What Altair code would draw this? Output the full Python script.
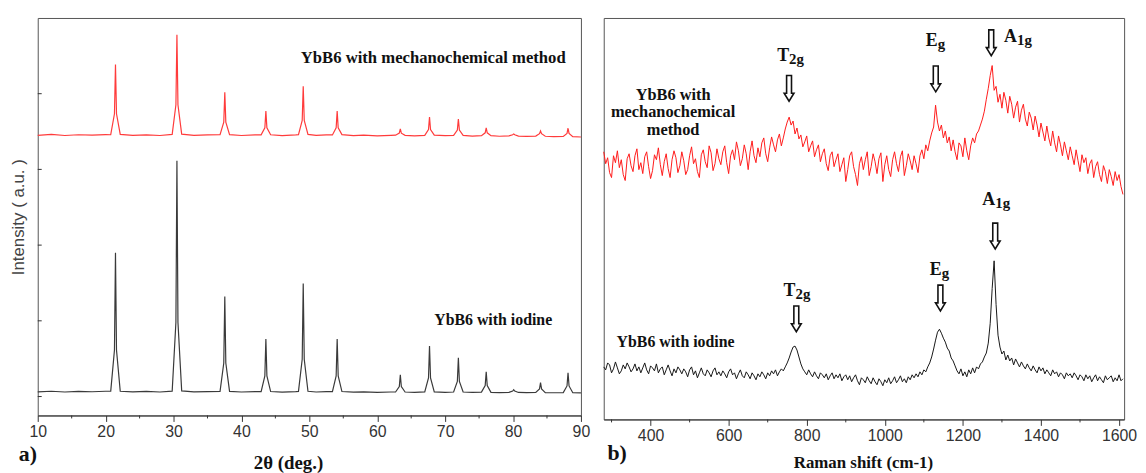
import altair as alt
import pandas as pd

# ---------------- panel a) XRD patterns ----------------
xrd_two_theta = [10, 12, 14, 16, 18, 20,
                 20.75, 21.3, 21.45, 21.6, 22.15,
                 24, 26, 28,
                 29.8, 30.35, 30.5, 30.65, 31.2,
                 33, 35,
                 36.85, 37.4, 37.55, 37.7, 38.25,
                 40, 42,
                 42.9, 43.45, 43.6, 43.75, 44.3,
                 46, 48,
                 48.4, 48.95, 49.1, 49.25, 49.8,
                 51, 52.5,
                 53.4, 53.95, 54.1, 54.25, 54.8,
                 56.5, 58, 60, 62,
                 62.7, 63.25, 63.4, 63.55, 64.1,
                 65.5,
                 67.0, 67.55, 67.7, 67.85, 68.4,
                 70,
                 71.25, 71.8, 71.95, 72.1, 72.65,
                 74,
                 75.35, 75.9, 76.05, 76.2, 76.75,
                 78,
                 79.4, 79.95, 80.1, 80.25, 80.8,
                 82,
                 83.35, 83.9, 84.05, 84.2, 84.75,
                 86,
                 87.4, 87.95, 88.1, 88.25, 88.8,
                 90]

xrd_mechano = [3450, 3462, 3448, 3458, 3452, 3460,
               3458, 3735, 4385, 3735, 3462,
               3450, 3457, 3448,
               3462, 3853, 4778, 3853, 3465,
               3450, 3455,
               3458, 3625, 4019, 3625, 3460,
               3448, 3455,
               3456, 3550, 3770, 3550, 3458,
               3447, 3455,
               3458, 3648, 4097, 3648, 3462,
               3450, 3456,
               3455, 3550, 3770, 3550, 3460,
               3446, 3452, 3444, 3450,
               3452, 3479, 3534, 3479, 3450,
               3442,
               3450, 3527, 3691, 3527, 3452,
               3445,
               3450, 3519, 3665, 3519, 3450,
               3440,
               3446, 3483, 3547, 3483, 3445,
               3438,
               3444, 3458, 3469, 3458, 3440,
               3436,
               3440, 3472, 3508, 3472, 3438,
               3434,
               3436, 3476, 3547, 3476, 3432,
               3428]

xrd_iodine = [62, 70, 60, 68, 63, 70,
              72, 615, 1898, 615, 70,
              62, 68, 60,
              72, 980, 3115, 980, 75,
              62, 66,
              68, 442, 1322, 442, 68,
              60, 66,
              66, 273, 759, 273, 66,
              58, 64,
              68, 493, 1492, 493, 70,
              60, 64,
              64, 273, 759, 273, 66,
              58, 62, 55, 60,
              60, 132, 288, 132, 60,
              56,
              62, 246, 668, 246, 62,
              56,
              60, 199, 511, 199, 60,
              54,
              58, 144, 327, 144, 56,
              52,
              55, 73, 90, 73, 54,
              52,
              54, 100, 183, 100, 52,
              50,
              52, 140, 314, 140, 50,
              48]

xrd_major_ticks = [10, 20, 30, 40, 50, 60, 70, 80, 90]
xrd_minor_ticks = [15, 25, 35, 45, 55, 65, 75, 85]
xrd_y_ticks = [0, 1000, 2000, 3000, 4000]

xrd_labels = ["YbB6 with mechanochemical method", "YbB6 with iodine"]
xrd_label_x = [68.25, 77.08]
xrd_label_y = [4476, 1007]

# ---------------- panel b) Raman spectra ----------------
raman_start, raman_step = 280, 5
raman_mechano = [
    270, 258, 264, 249, 244, 266, 259, 271, 254, 262, 247, 241, 263, 268, 256, 250, 266, 273, 252, 259,
    248, 265, 270, 255, 243, 251, 267, 262, 274, 257, 246, 260, 268, 253, 244, 262, 271, 264, 249, 256,
    270, 261, 247, 252, 266, 275, 258, 263, 250, 244, 267, 272, 260, 254, 276, 269, 251, 258, 273, 263,
    257, 270, 276, 259, 248, 266, 272, 262, 280, 271, 256, 263, 277, 268, 252, 270, 281, 266, 259, 274,
    265, 279, 284, 268, 260, 274, 285, 277, 270, 282, 288, 276, 284, 293, 300, 305, 297, 301, 288, 294,
    283, 287, 275, 280, 286, 270, 276, 281, 265, 272, 277, 260, 268, 273, 258, 251, 266, 270, 255, 262,
    268, 250, 257, 264, 240, 252, 266, 270, 255, 247, 236, 258, 265, 252, 262, 270, 246, 255, 268, 260,
    248, 263, 269, 240, 257, 266, 252, 245, 262, 270, 258, 250, 265, 271, 246, 256, 268, 261, 252, 266,
    258, 249, 266, 272, 263, 277, 271, 281, 289, 295, 317, 300, 291, 297, 284, 291, 279, 285, 271, 282,
    270, 262, 279, 276, 265, 284, 271, 262, 276, 284, 279, 288, 291, 297, 303, 311, 323, 334, 347, 357,
    332, 336, 320, 328, 314, 330, 322, 309, 326, 318, 304, 315, 321, 300, 312, 318, 303, 296, 310, 304,
    292, 306, 297, 285, 299, 290, 281, 296, 284, 276, 291, 279, 270, 286, 277, 266, 280, 271, 262, 275,
    266, 257, 272, 261, 250, 267, 259, 264, 248, 258, 262, 244, 255, 260, 247, 240, 256, 250, 238, 252,
    245, 236, 250, 241, 247, 235, 227]

raman_iodine = [
    53, 50, 57, 55, 47, 51, 58, 52, 46, 49, 55, 51, 57, 53, 48, 51, 56, 49, 53, 47,
    52, 57, 50, 46, 54, 52, 49, 56, 47, 51, 53, 45, 50, 55, 49, 44, 51, 47, 53, 50,
    46, 51, 48, 43, 50, 53, 45, 49, 42, 47, 52, 46, 44, 50, 47, 43, 49, 52, 45, 48,
    44, 49, 46, 42, 48, 51, 45, 47, 41, 46, 50, 44, 42, 48, 45, 41, 47, 44, 40, 46,
    43, 48, 45, 41, 47, 44, 49, 46, 50, 44, 48, 51, 49, 53, 57, 62, 68, 73, 74, 70,
    63, 56, 51, 48, 45, 50, 46, 43, 48, 44, 41, 47, 45, 42, 46, 40, 44, 47, 41, 45,
    42, 46, 39, 43, 45, 40, 44, 38, 42, 45, 39, 35, 42, 40, 37, 43, 39, 36, 42, 38,
    35, 41, 38, 34, 40, 37, 42, 36, 39, 43, 37, 40, 44, 38, 41, 37, 43, 40, 45, 42,
    46, 43, 48, 45, 50, 48, 53, 57, 63, 71, 80, 88, 91, 87, 82, 78, 72, 69, 62, 59,
    54, 49, 46, 51, 44, 48, 43, 50, 46, 52, 47, 53, 51, 56, 58, 63, 67, 77, 97, 132,
    160, 116, 85, 73, 66, 69, 60, 65, 59, 62, 55, 61, 57, 53, 58, 54, 51, 56, 52, 49,
    54, 50, 47, 53, 49, 52, 46, 50, 47, 44, 50, 46, 48, 43, 47, 45, 41, 47, 44, 46,
    42, 47, 44, 40, 45, 43, 39, 45, 41, 44, 38, 42, 45, 39, 43, 40, 37, 44, 40, 42,
    44, 38, 42, 39, 45, 39, 41]
raman_shift = [raman_start + raman_step * i for i in range(len(raman_mechano))]

raman_major_ticks = [400, 600, 800, 1000, 1200, 1400, 1600]
raman_minor_ticks = [300, 500, 700, 900, 1100, 1300, 1500]

raman_sample_labels = ["YbB6 with", "mechanochemical", "method", "YbB6 with iodine"]
raman_sample_x = [457.7, 457.7, 457.7, 464]
raman_sample_y = [327, 310, 292, 78]

mode_main = ["T", "E", "A", "T", "E", "A"]
mode_sub = ["2g", "g", "1g", "2g", "g", "1g"]
mode_x = [754.7, 1135.5, 1338.6, 771.2, 1145.7, 1282.8]
mode_y = [362, 377, 381, 125, 146, 216]
arrow_x = [754.7, 1130.5, 1272.6, 773.3, 1142.4, 1282.8]
arrow_y = [334, 343.5, 380, 101.5, 122.5, 185]

# ---------------- styling ----------------
serif = "Liberation Serif"
sans = "Liberation Sans"
W1, H1 = 548, 401
W2, H2 = 525, 405
ARROW = "M -0.19 -1 L 0.19 -1 L 0.19 0.38 L 0.38 0.38 L 0 1 L -0.38 0.38 L -0.19 0.38 Z"


def axis_x(values):
    return alt.Axis(values=values, title=None, grid=False, tickSize=6, tickColor="#333",
                    tickWidth=1, domainColor="#333", domainWidth=1, labelFont=sans,
                    labelFontSize=16, labelColor="#333", labelPadding=2, labelFlush=False,
                    labelOverlap=False, format="d")


xa_scale = alt.Scale(domain=[10, 90], nice=False, zero=False)
ya_scale = alt.Scale(domain=[-250, 5000], nice=False, zero=False)
xa_axis = axis_x(xrd_major_ticks)

xb_scale = alt.Scale(domain=[280, 1613], nice=False, zero=False)
yb_scale = alt.Scale(domain=[0, 405], nice=False, zero=False)
xb_axis = axis_x(raman_major_ticks)


def XA(f):
    return alt.X(f, type="quantitative", scale=xa_scale, axis=xa_axis)


def YA(f):
    return alt.Y(f, type="quantitative", scale=ya_scale, axis=None)


def XB(f):
    return alt.X(f, type="quantitative", scale=xb_scale, axis=xb_axis)


def YB(f):
    return alt.Y(f, type="quantitative", scale=yb_scale, axis=None)


def free_text(txt, px, py, size, font=serif, weight="bold", angle=0, color="#111"):
    return alt.Chart(pd.DataFrame({"t": [txt]})).mark_text(
        font=font, fontSize=size, fontWeight=weight, angle=angle, color=color,
        align="center", baseline="middle").encode(
        text="t:N", x=alt.value(px), y=alt.value(py))


# ---------- panel a ----------
xrd_df = pd.DataFrame({"tt": xrd_two_theta, "mech": xrd_mechano, "iod": xrd_iodine})
red_a = alt.Chart(xrd_df).mark_line(color="#ff3b3b", strokeWidth=1.2).encode(x=XA("tt"), y=YA("mech"))
black_a = alt.Chart(xrd_df).mark_line(color="#3a3a3a", strokeWidth=1.2).encode(x=XA("tt"), y=YA("iod"))
minor_a = alt.Chart(pd.DataFrame({"v": xrd_minor_ticks})).mark_rule(color="#333").encode(
    x=XA("v"), y=alt.value(H1), y2=alt.value(H1 + 3))
ytick_a = alt.Chart(pd.DataFrame({"v": xrd_y_ticks})).mark_rule(color="#333").encode(
    y=YA("v"), x=alt.value(0), x2=alt.value(4))
lab_a = alt.Chart(pd.DataFrame({"t": xrd_labels, "x": xrd_label_x, "y": xrd_label_y,
                                "fs": [16.8, 16]})).mark_text(
    font=serif, fontWeight="bold", color="#111", align="center", baseline="middle").encode(
    x=XA("x"), y=YA("y"), text="t:N", size=alt.Size("fs:Q", scale=None, legend=None))
anchor = alt.Chart(pd.DataFrame({"t": [0]})).mark_rule(color="white").encode(
    x=alt.value(-28.5), y=alt.value(0), y2=alt.value(1))

panel_a = alt.layer(
    anchor, red_a, black_a, minor_a, ytick_a, lab_a,
    free_text("a)", -10, 440, 22),
    free_text("2θ (deg.)", 253, 449, 19),
    free_text("Intensity ( a.u. )", -19, 201, 17, font=sans, weight="normal", angle=270, color="#444"),
).properties(width=W1, height=H1)

# ---------- panel b ----------
raman_df = pd.DataFrame({"s": raman_shift, "mech": raman_mechano, "iod": raman_iodine})
red_b = alt.Chart(raman_df).mark_line(color="#ff1a1a", strokeWidth=1).encode(x=XB("s"), y=YB("mech"))
black_b = alt.Chart(raman_df).mark_line(color="#161616", strokeWidth=1).encode(x=XB("s"), y=YB("iod"))
minor_b = alt.Chart(pd.DataFrame({"v": raman_minor_ticks})).mark_rule(color="#333").encode(
    x=XB("v"), y=alt.value(H2), y2=alt.value(H2 + 3))
lab_b = alt.Chart(pd.DataFrame({"t": raman_sample_labels, "x": raman_sample_x, "y": raman_sample_y,
                                "fs": [16.5, 16.5, 16.5, 16]})).mark_text(
    font=serif, fontWeight="bold", color="#111", align="center", baseline="middle").encode(
    x=XB("x"), y=YB("y"), text="t:N", size=alt.Size("fs:Q", scale=None, legend=None))
modes_df = pd.DataFrame({"m": mode_main, "s": mode_sub, "x": mode_x, "y": mode_y})
mode_main_t = alt.Chart(modes_df).mark_text(
    font=serif, fontSize=18, fontWeight="bold", color="#111", align="right", baseline="alphabetic").encode(
    x=XB("x"), y=YB("y"), text="m:N")
mode_sub_t = alt.Chart(modes_df).mark_text(
    font=serif, fontSize=15, fontWeight="bold", color="#111", align="left", baseline="alphabetic", dy=3).encode(
    x=XB("x"), y=YB("y"), text="s:N")
arrows = alt.Chart(pd.DataFrame({"x": arrow_x, "y": arrow_y})).mark_point(
    shape=ARROW, size=676, filled=False, color="#111", strokeWidth=1.6, opacity=1).encode(
    x=XB("x"), y=YB("y"))

panel_b = alt.layer(
    red_b, black_b, minor_b, lab_b, mode_main_t, mode_sub_t, arrows,
    free_text("b)", 13.5, 439, 22),
    free_text("Raman shift (cm-1)", 262, 449, 17),
).properties(width=W2, height=H2)

chart = alt.hconcat(panel_a, panel_b, spacing=23, bounds="flush").properties(
    padding={"left": 0, "top": 7, "right": 0, "bottom": 0}, background="white"
).configure_view(stroke="#555", strokeWidth=1)

chart.save("out.html", embed_options={"renderer": "svg", "actions": False})
